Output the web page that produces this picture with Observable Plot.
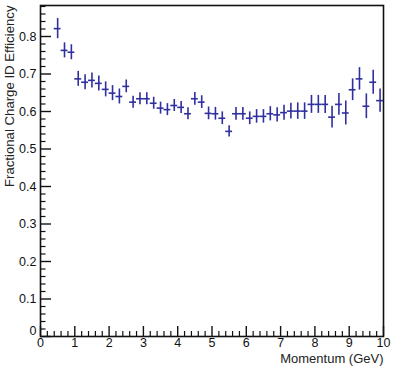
<!DOCTYPE html>
<html>
<head>
<meta charset="utf-8">
<script src="https://cdn.jsdelivr.net/npm/d3@7"></script>
<script src="https://cdn.jsdelivr.net/npm/@observablehq/plot@0.6"></script>
<style>
  html, body { margin: 0; padding: 0; background: #fff; }
  svg { display: block; }
</style>
</head>
<body>
<div id="chart"></div>
<script>
// Bin centres (GeV), bin half-width 0.1
const momentum = [0.5,0.7,0.9,1.1,1.3,1.5,1.7,1.9,2.1,2.3,2.5,2.7,2.9,3.1,3.3,3.5,3.7,3.9,4.1,4.3,4.5,4.7,4.9,5.1,5.3,5.5,5.7,5.9,6.1,6.3,6.5,6.7,6.9,7.1,7.3,7.5,7.7,7.9,8.1,8.3,8.5,8.7,8.9,9.1,9.3,9.5,9.7,9.9];
const efficiency = [0.821,0.763,0.758,0.687,0.678,0.683,0.675,0.659,0.649,0.640,0.667,0.625,0.634,0.634,0.622,0.609,0.605,0.616,0.611,0.594,0.634,0.625,0.595,0.594,0.582,0.547,0.594,0.594,0.582,0.587,0.587,0.594,0.591,0.597,0.601,0.601,0.601,0.619,0.619,0.619,0.585,0.619,0.596,0.658,0.687,0.614,0.678,0.629];
const errors = [0.027,0.02,0.02,0.02,0.02,0.02,0.02,0.02,0.02,0.02,0.017,0.016,0.016,0.016,0.016,0.016,0.016,0.016,0.016,0.016,0.017,0.017,0.017,0.017,0.017,0.015,0.017,0.017,0.017,0.018,0.018,0.019,0.019,0.02,0.021,0.022,0.022,0.024,0.024,0.024,0.029,0.029,0.032,0.029,0.03,0.033,0.032,0.031];
const halfWidth = 0.1;

const xMajor = [0,1,2,3,4,5,6,7,8,9,10];
const xMinor = d3.range(0, 50).map(i => i * 0.2).filter(v => Math.abs(v - Math.round(v)) > 1e-6);
const yMajor = [0,0.1,0.2,0.3,0.4,0.5,0.6,0.7,0.8];
const yMinor = d3.range(0, 45).map(i => +(i * 0.02).toFixed(2)).filter(v => Math.abs(v * 10 - Math.round(v * 10)) > 1e-6);
const yLabels = ["0","0.1","0.2","0.3","0.4","0.5","0.6","0.7","0.8"];
const yTitle = "Fractional Charge ID Efficiency";
const xTitle = "Momentum (GeV)";

const data = momentum.map((m, i) => ({m, e: efficiency[i], err: errors[i]}));

const W = 394, H = 371;
const mL = 40, mR = 11, mT = 5, mB = 35;
const pw = W - mL - mR, ph = H - mT - mB;
const col = "#2f2f9e";

const plot = Plot.plot({
  width: W, height: H,
  marginLeft: mL, marginRight: mR, marginTop: mT, marginBottom: mB,
  style: {fontFamily: "'Liberation Sans', Arial, sans-serif", fontSize: "12.5px", color: "#111", background: "#fff"},
  x: {domain: [0, 10]},
  y: {domain: [0, ph / 375]},
  marks: [
    Plot.frame({stroke: "#111", strokeWidth: 1.6}),
    // ticks drawn inward
    Plot.tickY(yMajor, {y: d => d, insetRight: pw - 11, stroke: "#111", strokeWidth: 1.4}),
    Plot.tickY(yMinor, {y: d => d, insetRight: pw - 5.5, stroke: "#111", strokeWidth: 1.2}),
    Plot.tickX(xMajor, {x: d => d, insetTop: ph - 10, stroke: "#111", strokeWidth: 1.4}),
    Plot.tickX(xMinor, {x: d => d, insetTop: ph - 5, stroke: "#111", strokeWidth: 1.2}),
    Plot.axisY(yMajor.slice(1), {tickSize: 0, tickPadding: 4, tickFormat: (d) => yLabels[yMajor.indexOf(d)], label: null, fontSize: 12.5}),
    Plot.text([0], {x: 0, y: d => d, text: () => yLabels[0], textAnchor: "end", dx: -4, dy: -6, fontSize: 12.5}),
    Plot.axisX(xMajor, {tickSize: 0, tickPadding: 2, tickFormat: d => String(d), label: null, fontSize: 12.5}),
    // axis titles
    Plot.text([yTitle], {frameAnchor: "top-left", dx: -31, dy: 0, rotate: -90, textAnchor: "end", lineAnchor: "middle", fontSize: 13.2, fill: "#222"}),
    Plot.text([xTitle], {frameAnchor: "bottom-right", dy: 17.5, textAnchor: "end", lineAnchor: "top", fontSize: 13, fill: "#222"}),
    // error bars
    Plot.ruleX(data, {x: "m", y1: d => d.e - d.err, y2: d => d.e + d.err, stroke: col, strokeWidth: 1.6}),
    Plot.ruleY(data, {y: "e", x1: d => d.m - halfWidth, x2: d => d.m + halfWidth, stroke: col, strokeWidth: 1.6})
  ]
});
document.getElementById("chart").appendChild(plot);
</script>
</body>
</html>
